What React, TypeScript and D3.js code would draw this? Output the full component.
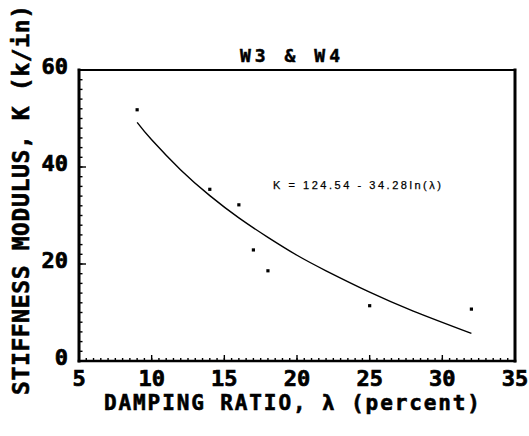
import * as d3 from "d3";

// measured points: damping ratio (percent) vs stiffness modulus (k/in)
const damping = [9, 14, 16, 17, 18, 25, 32];
const stiffness = [51.8, 35.4, 32.2, 22.9, 18.6, 11.4, 10.7];

// fitted curve K = 124.54 - 34.28 ln(lambda)
const fitLambda = [9, 10, 12, 14, 16, 18, 20, 22, 25, 28, 32];
const fitK = [49.2, 45.6, 39.4, 34.1, 29.5, 25.5, 21.8, 18.6, 14.2, 10.3, 5.7];

const xTicks = [5, 10, 15, 20, 25, 30, 35];
const yTicks = [0, 20, 40, 60];

const W = 529;
const H = 436;
const margin = { top: 70, right: 14, bottom: 75, left: 79 };

const mono = "'DejaVu Sans Mono', monospace";

export default function App() {
  const x = d3.scaleLinear().domain([5, 35]).range([margin.left, W - margin.right]);
  const y = d3.scaleLinear().domain([0, 60]).range([H - margin.bottom, margin.top]);
  const bottom = H - margin.bottom;

  const xMinor = d3.range(5, 35.01, 0.5);
  const yMinor = d3.range(0, 60.01, 2);

  const line = d3
    .line<number>()
    .x((d) => x(d))
    .y((_, i) => y(fitK[i]))
    .curve(d3.curveNatural);

  return (
    <svg
      width={W}
      height={H}
      viewBox={`0 0 ${W} ${H}`}
      style={{ position: "absolute", left: 0, top: 0, background: "#fff" }}
    >
      <rect x={0} y={0} width={W} height={H} fill="#fff" />

      {/* minor ticks */}
      <g stroke="#000" strokeWidth={1.4}>
        {xMinor.map((v) => (
          <line key={"xm" + v} x1={x(v)} x2={x(v)} y1={bottom} y2={bottom - 3} />
        ))}
        {yMinor.map((v) => (
          <line key={"ym" + v} x1={x(5)} x2={x(5) + 3.5} y1={y(v)} y2={y(v)} />
        ))}
        {xTicks.map((v) => (
          <line key={"xM" + v} x1={x(v)} x2={x(v)} y1={bottom} y2={bottom - 6} />
        ))}
        {yTicks.map((v) => (
          <line key={"yM" + v} x1={x(5)} x2={x(5) + 7} y1={y(v)} y2={y(v)} />
        ))}
      </g>

      {/* frame */}
      <g stroke="#000" fill="none" strokeLinecap="square">
        <line x1={x(5)} x2={x(35)} y1={y(60)} y2={y(60)} strokeWidth={2.2} />
        <line x1={x(5)} x2={x(35)} y1={bottom} y2={bottom} strokeWidth={2.6} />
        <line x1={x(5)} x2={x(5)} y1={y(60)} y2={bottom} strokeWidth={3} />
        <line x1={x(35)} x2={x(35)} y1={y(60)} y2={bottom} strokeWidth={3} />
      </g>

      {/* fitted curve */}
      <path d={line(fitLambda) ?? ""} fill="none" stroke="#000" strokeWidth={1.4} />

      {/* data points */}
      {damping.map((d, i) => (
        <rect key={i} x={x(d) - 1.6} y={y(stiffness[i]) - 1.6} width={3.2} height={3.2} fill="#000" />
      ))}

      {/* tick labels */}
      <g fontFamily={mono} fontWeight="bold" fontSize={22} fill="#000" stroke="#000" strokeWidth={0.7}>
        {xTicks.map((v) => (
          <text key={"xl" + v} x={x(v)} y={bottom + 25} textAnchor="middle">
            {v}
          </text>
        ))}
        {yTicks.map((v) => (
          <text key={"yl" + v} x={x(5) - 11} y={y(v) + 4} textAnchor="end">
            {v}
          </text>
        ))}
      </g>

      {/* title */}
      <text
        x={290}
        y={62}
        textAnchor="middle"
        fontFamily={mono}
        fontWeight="bold"
        fontSize={18}
        stroke="#000"
        strokeWidth={0.5}
        textLength={100}
        lengthAdjust="spacing"
      >
        W3 &amp; W4
      </text>

      {/* equation */}
      <text
        x={273}
        y={189}
        fontFamily="'Liberation Sans', Arial, sans-serif"
        fontSize={11}
        stroke="#000"
        strokeWidth={0.25}
        textLength={168}
        lengthAdjust="spacing"
      >
        K = 124.54 - 34.28ln(λ)
      </text>

      {/* axis titles */}
      <g fontFamily={mono} fontWeight="bold" stroke="#000" strokeWidth={0.6}>
        <text x={104} y={410} fontSize={21} textLength={376} lengthAdjust="spacing">
          DAMPING RATIO, λ (percent)
        </text>
        <text
          transform="translate(29,395) rotate(-90)"
          fontSize={23}
          textLength={390}
          lengthAdjust="spacing"
        >
          STIFFNESS MODULUS, K (k/in)
        </text>
      </g>
    </svg>
  );
}
